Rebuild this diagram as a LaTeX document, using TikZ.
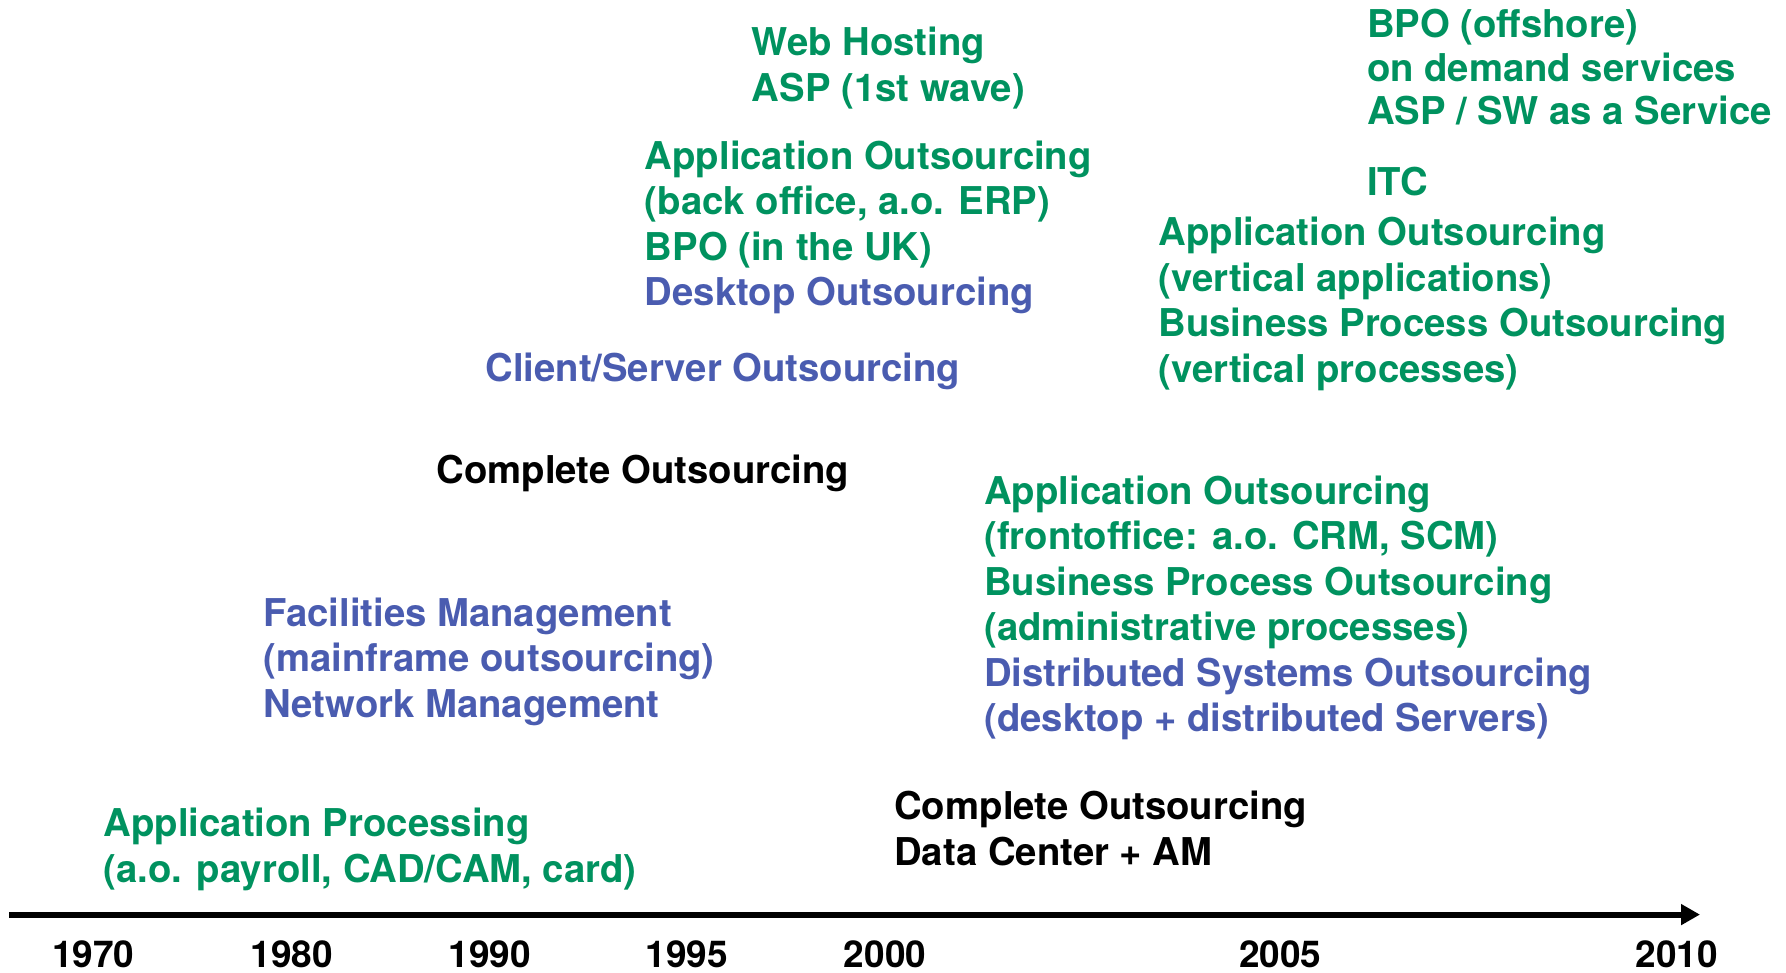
\documentclass[tikz,border=0pt]{standalone}
\usepackage{fontspec}
\setmainfont{TeX Gyre Heros}
\usetikzlibrary{arrows.meta}
\definecolor{obGreen}{HTML}{00925F}
\definecolor{obBlue}{HTML}{4A5CB0}
\begin{document}
\begin{tikzpicture}[x=1pt,y=1pt,
  lbl/.style={anchor=north west,inner sep=0pt,align=left,
    font=\fontsize{38.3}{45.5}\selectfont\bfseries},
  grn/.style={lbl,text=obGreen},
  blu/.style={lbl,text=obBlue},
  blk/.style={lbl,text=black},
  yr/.style={inner sep=0pt,font=\fontsize{37}{45.5}\selectfont\bfseries,anchor=center}]
\useasboundingbox (0,0) rectangle (1786,973);
% blocks
\node[grn] (web) at (751.7,949.5) {\strut Web Hosting\\ASP (1st wave)};
\node[grn,font=\fontsize{38.3}{43.8}\selectfont\bfseries] (bpo) at (1366.8,966.5) {\strut BPO (offshore)\\on demand services\\ASP / SW as a Service};
\node[grn] (itc) at (1366.8,809.4) {\strut ITC};
\node[grn] (appbo) at (644.7,835.6) {\strut Application Outsourcing\\(back office, a.o. ERP)\\BPO (in the UK)\\\textcolor{obBlue}{Desktop Outsourcing}};
\node[grn] (appvert) at (1158.4,759.2) {\strut Application Outsourcing\\(vertical applications)\\Business Process Outsourcing\\(vertical processes)};
\node[blu] (cs) at (485.2,623.7) {\strut Client/Server Outsourcing};
\node[blk] (co1) at (436.2,521.2) {\strut Complete Outsourcing};
\node[grn] (appfo) at (984.1,500.7) {\strut Application Outsourcing\\(frontoffice: a.o. CRM, SCM)\\Business Process Outsourcing\\(administrative processes)\\\textcolor{obBlue}{Distributed Systems Outsourcing}\\\textcolor{obBlue}{(desktop + distributed Servers)}};
\node[blu] (fm) at (263.1,378.8) {\strut Facilities Management\\(mainframe outsourcing)\\Network Management};
\node[grn] (ap) at (103.6,168.1) {\strut Application Processing\\(a.o. payroll, CAD/CAM, card)};
\node[blk] (co2) at (894.1,185.2) {\strut Complete Outsourcing\\Data Center + AM};
% axis
\coordinate (axs) at (9,58.4);
\coordinate (axe) at (1700,58.4);
\draw[line width=6pt,-{Triangle[length=19pt,width=20pt]}] (axs) -- (axe);
% years
\node[yr] (y1970) at (93.4,18.5) {1970};
\node[yr] (y1980) at (291.6,18.5) {1980};
\node[yr] (y1990) at (489.8,18.5) {1990};
\node[yr] (y1995) at (686.8,18.5) {1995};
\node[yr] (y2000) at (885,18.5) {2000};
\node[yr] (y2005) at (1280.2,18.5) {2005};
\node[yr] (y2010) at (1676.6,18.5) {2010};
\end{tikzpicture}
\end{document}
